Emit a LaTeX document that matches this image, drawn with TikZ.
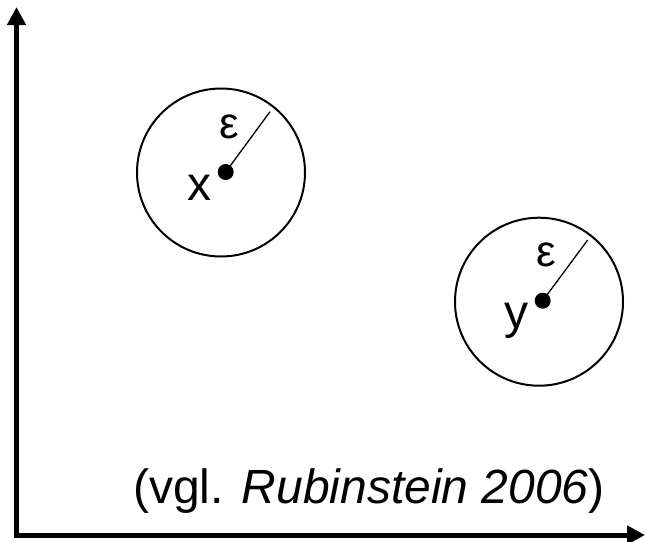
\documentclass[tikz,border=0pt]{standalone}
\usepackage{fontspec}
\setmainfont{Liberation Sans}
\usetikzlibrary{arrows.meta}
\begin{document}
\begin{tikzpicture}[x=1pt,y=-1pt,
  axis/.style={line width=5pt,-{Triangle[length=18pt,width=18pt]}},
  ball/.style={draw,line width=2pt,circle,minimum size=168pt,inner sep=0pt},
  pt/.style={fill,circle,minimum size=16pt,inner sep=0pt},
  rad/.style={line width=1.3pt},
  big/.style={font=\fontsize{48}{48}\selectfont,inner sep=0pt},
  eps/.style={font=\fontsize{44}{44}\selectfont,inner sep=0pt}]
\useasboundingbox (0,0) rectangle (645,541);
\coordinate (o) at (16.5,535);
\coordinate (ytip) at (16.5,7);
\coordinate (xtip) at (645,535);
\draw[axis] (16.5,537.5) -- (ytip);
\draw[axis] (14,535) -- (xtip);
% first ball
\node[ball] (c1) at (221,172.5) {};
\node[pt] (x) at (225.7,172) {};
\coordinate (r1) at (270,111.7);
\draw[rad] (x.center) -- (r1);
\node[eps,anchor=base] (e1) at (229,138) {ε};
\node[big,anchor=base] (xl) at (199,200) {x};
% second ball
\node[ball] (c2) at (539,301.7) {};
\node[pt] (y) at (542.7,300.7) {};
\coordinate (r2) at (587.7,240);
\draw[rad] (y.center) -- (r2);
\node[eps,anchor=base] (e2) at (546.5,266) {ε};
\node[big,anchor=base] (yl) at (516.7,328) {y};
% citation
\node[big,anchor=base west] (cite) at (133,503) {(vgl. \textit{Rubinstein 2006})};
\end{tikzpicture}
\end{document}
